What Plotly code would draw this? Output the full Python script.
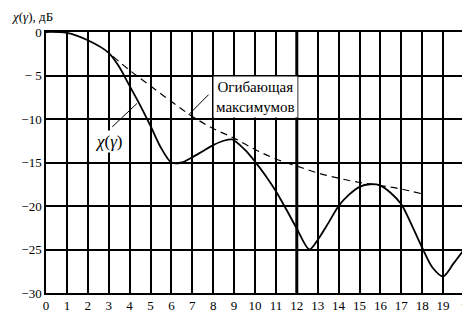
import plotly.graph_objects as go

# ---- data ----
gamma = [0, 1, 2, 3, 3.5, 4, 4.5, 5, 5.5, 6, 6.5, 7, 7.5, 8, 8.5, 8.9, 9.5, 10,
         10.5, 11, 11.5, 12, 12.6, 13, 13.5, 14, 14.5, 15, 15.5, 16, 16.5, 17,
         17.5, 18, 18.5, 19, 19.5, 20]
chi = [0, -0.1, -0.95, -2.4, -4.0, -6.2, -8.4, -10.8, -13.3, -15.0, -15.0, -14.4,
       -13.7, -13.0, -12.5, -12.35, -13.5, -14.9, -16.5, -18.3, -20.4, -22.6,
       -25.0, -23.9, -22.0, -20.0, -18.7, -17.8, -17.5, -17.65, -18.5, -19.8,
       -22.2, -24.8, -27.1, -28.1, -26.6, -25.0]

env_gamma = [3.2, 4, 5, 6, 7, 8, 9, 10, 11, 12, 13, 14, 15, 16, 17, 18]
env_chi = [-2.8, -4.4, -6.2, -8.0, -9.7, -11.1, -12.2, -13.5, -14.6, -15.4,
           -16.2, -16.8, -17.3, -17.65, -18.05, -18.6]

x_ticks = list(range(0, 21))
x_ticktext = [str(v) for v in range(0, 20)] + ["<i>γ</i>"]
y_ticks = [0, -5, -10, -15, -20, -25, -30]
y_ticktext = ["0", "− 5", "−10", "−15", "−20", "−25", "−30"]

marker_gamma = 12

env_label = "Огибающая<br>максимумов"
env_label_pos = (10.02, -7.5)
env_pointer = [(7.78, -7.2), (6.83, -9.5)]
chi_label = "<i>χ</i>(<i>γ</i>)"
chi_label_pos = (3.02, -12.6)
chi_pointer = [(3.17, -10.9), (4.36, -8.2)]
y_title = "<i>χ</i>(<i>γ</i>), дБ"

FONT = "Liberation Serif, Times New Roman, serif"

fig = go.Figure()
fig.add_trace(go.Scatter(x=env_gamma, y=env_chi, mode="lines",
                         line=dict(color="black", width=1.2, dash="7px,5px", shape="spline"),
                         hoverinfo="skip", showlegend=False))
fig.add_trace(go.Scatter(x=gamma, y=chi, mode="lines",
                         line=dict(color="black", width=1.8, shape="spline", smoothing=0.8),
                         hoverinfo="skip", showlegend=False))

fig.add_vline(x=marker_gamma, line=dict(color="black", width=3))

for (p0, p1) in [env_pointer, chi_pointer]:
    fig.add_shape(type="line", x0=p0[0], y0=p0[1], x1=p1[0], y1=p1[1],
                  line=dict(color="black", width=1))

fig.add_annotation(x=env_label_pos[0], y=env_label_pos[1], text=env_label,
                   showarrow=False, bgcolor="white", borderpad=2,
                   font=dict(family=FONT, size=15, color="black"))
fig.add_annotation(x=chi_label_pos[0], y=chi_label_pos[1], text=chi_label,
                   showarrow=False, bgcolor="white",
                   font=dict(family=FONT, size=17, color="black"))
fig.add_annotation(xref="paper", yref="paper", x=-0.088, y=1.06,
                   xanchor="left", yanchor="middle", text=y_title,
                   showarrow=False, font=dict(family=FONT, size=13, color="black"))

fig.update_xaxes(range=[0, 20], tickvals=x_ticks, ticktext=x_ticktext,
                 showgrid=True, gridcolor="black", gridwidth=1.5,
                 showline=True, linecolor="black", linewidth=1.5, mirror=True,
                 zeroline=False, ticks="", tickfont=dict(family=FONT, size=13, color="black"))
fig.update_yaxes(range=[-30, 0], tickvals=y_ticks, ticktext=y_ticktext,
                 showgrid=True, gridcolor="black", gridwidth=1.5,
                 showline=True, linecolor="black", linewidth=1.5, mirror=True,
                 zeroline=False, ticks="", tickfont=dict(family=FONT, size=13, color="black"))

fig.update_layout(width=470, height=316, margin=dict(l=38, r=11, t=24, b=23),
                  plot_bgcolor="white", paper_bgcolor="white", showlegend=False)

fig.write_html("out.html")
